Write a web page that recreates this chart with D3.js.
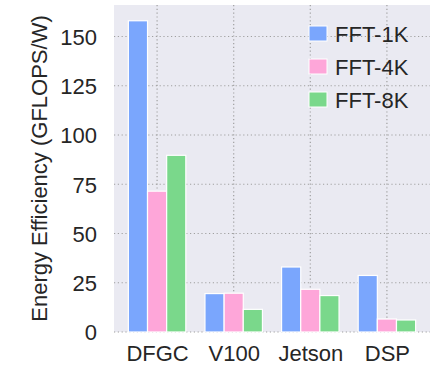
<!DOCTYPE html>
<html>
<head>
<meta charset="utf-8">
<script src="https://cdn.jsdelivr.net/npm/d3@7"></script>
<style>
  body { margin: 0; background: #fff; }
  text { font-family: "Liberation Sans", Arial, sans-serif; fill: #262626; }
</style>
</head>
<body>
<div id="display"></div>
<script>
// data
let categories = ['DFGC', 'V100', 'Jetson', 'DSP'];
let seriesNames = ['FFT-1K', 'FFT-4K', 'FFT-8K'];
let fft1k = [158, 19.5, 33, 28.7];
let fft4k = [71.5, 19.7, 21.7, 6.6];
let fft8k = [89.7, 11.5, 18.5, 6.1];
let yTicks = [0, 25, 50, 75, 100, 125, 150];
let colors = ['#7aa6fd', '#fea6d9', '#7ad88b'];

let series = [fft1k, fft4k, fft8k];

// dimensions and margins of the graph
let W = 444, H = 368;
let margin = {top: 5, right: 14, bottom: 36, left: 114};
let width = W - margin.left - margin.right;
let height = H - margin.top - margin.bottom;

let svg = d3.select('#display')
    .append('svg')
        .attr('width', W)
        .attr('height', H);

let g = svg.append('g')
    .attr('transform', 'translate(' + margin.left + ',' + margin.top + ')');

// background
g.append('rect')
    .attr('width', width)
    .attr('height', height)
    .attr('fill', '#eaeaf2');

// scales (matplotlib-like: groups at 0..3, bar width 0.25)
let barW = 0.25;
let x = d3.scaleLinear()
    .domain([-0.5625, 3.5625])
    .range([0, width]);
let y = d3.scaleLinear()
    .domain([0, 166])
    .range([height, 0]);

// grid
g.append('g')
    .selectAll('line')
    .data(yTicks)
    .enter()
    .append('line')
        .attr('x1', 0).attr('x2', width)
        .attr('y1', d => y(d)).attr('y2', d => y(d))
        .attr('stroke', '#a0a0a0')
        .attr('stroke-width', 1.2)
        .attr('stroke-dasharray', '1.2,2.6');
g.append('g')
    .selectAll('line')
    .data(categories)
    .enter()
    .append('line')
        .attr('x1', (d, i) => x(i)).attr('x2', (d, i) => x(i))
        .attr('y1', 0).attr('y2', height)
        .attr('stroke', '#a0a0a0')
        .attr('stroke-width', 1.2)
        .attr('stroke-dasharray', '1.2,2.6');

// bars
series.forEach((vals, s) => {
    g.append('g')
        .selectAll('rect')
        .data(vals)
        .enter()
        .append('rect')
            .attr('x', (d, i) => x(i + (s - 1.5) * barW))
            .attr('y', d => y(d))
            .attr('width', x(barW) - x(0))
            .attr('height', d => height - y(d))
            .attr('fill', colors[s])
            .attr('stroke', '#fff')
            .attr('stroke-width', 1.2);
});

// axes
let yAxis = g.append('g')
    .call(d3.axisLeft(y).tickValues(yTicks).tickSize(0).tickPadding(17));
yAxis.select('.domain').remove();
yAxis.selectAll('text')
    .style('font-size', '22px')
    .attr('dy', '0.36em');

let xAxis = g.append('g')
    .attr('transform', 'translate(0,' + height + ')')
    .call(d3.axisBottom(x).tickValues([0, 1, 2, 3]).tickFormat(i => categories[i]).tickSize(0).tickPadding(13));
xAxis.select('.domain').remove();
xAxis.selectAll('text')
    .style('font-size', '22px');

// y label
svg.append('text')
    .attr('transform', 'translate(47,' + (margin.top + height / 2) + ') rotate(-90)')
    .attr('text-anchor', 'middle')
    .style('font-size', '22px')
    .text('Energy Efficiency (GFLOPS/W)');

// legend
let legend = svg.append('g')
    .attr('transform', 'translate(309,26)');
seriesNames.forEach((name, i) => {
    let row = legend.append('g').attr('transform', 'translate(0,' + (i * 33) + ')');
    row.append('rect')
        .attr('width', 18)
        .attr('height', 15)
        .attr('fill', colors[i])
        .attr('stroke', '#fff')
        .attr('stroke-width', 1);
    row.append('text')
        .attr('x', 26)
        .attr('y', 15.5)
        .style('font-size', '22px')
        .text(name);
});
</script>
</body>
</html>
